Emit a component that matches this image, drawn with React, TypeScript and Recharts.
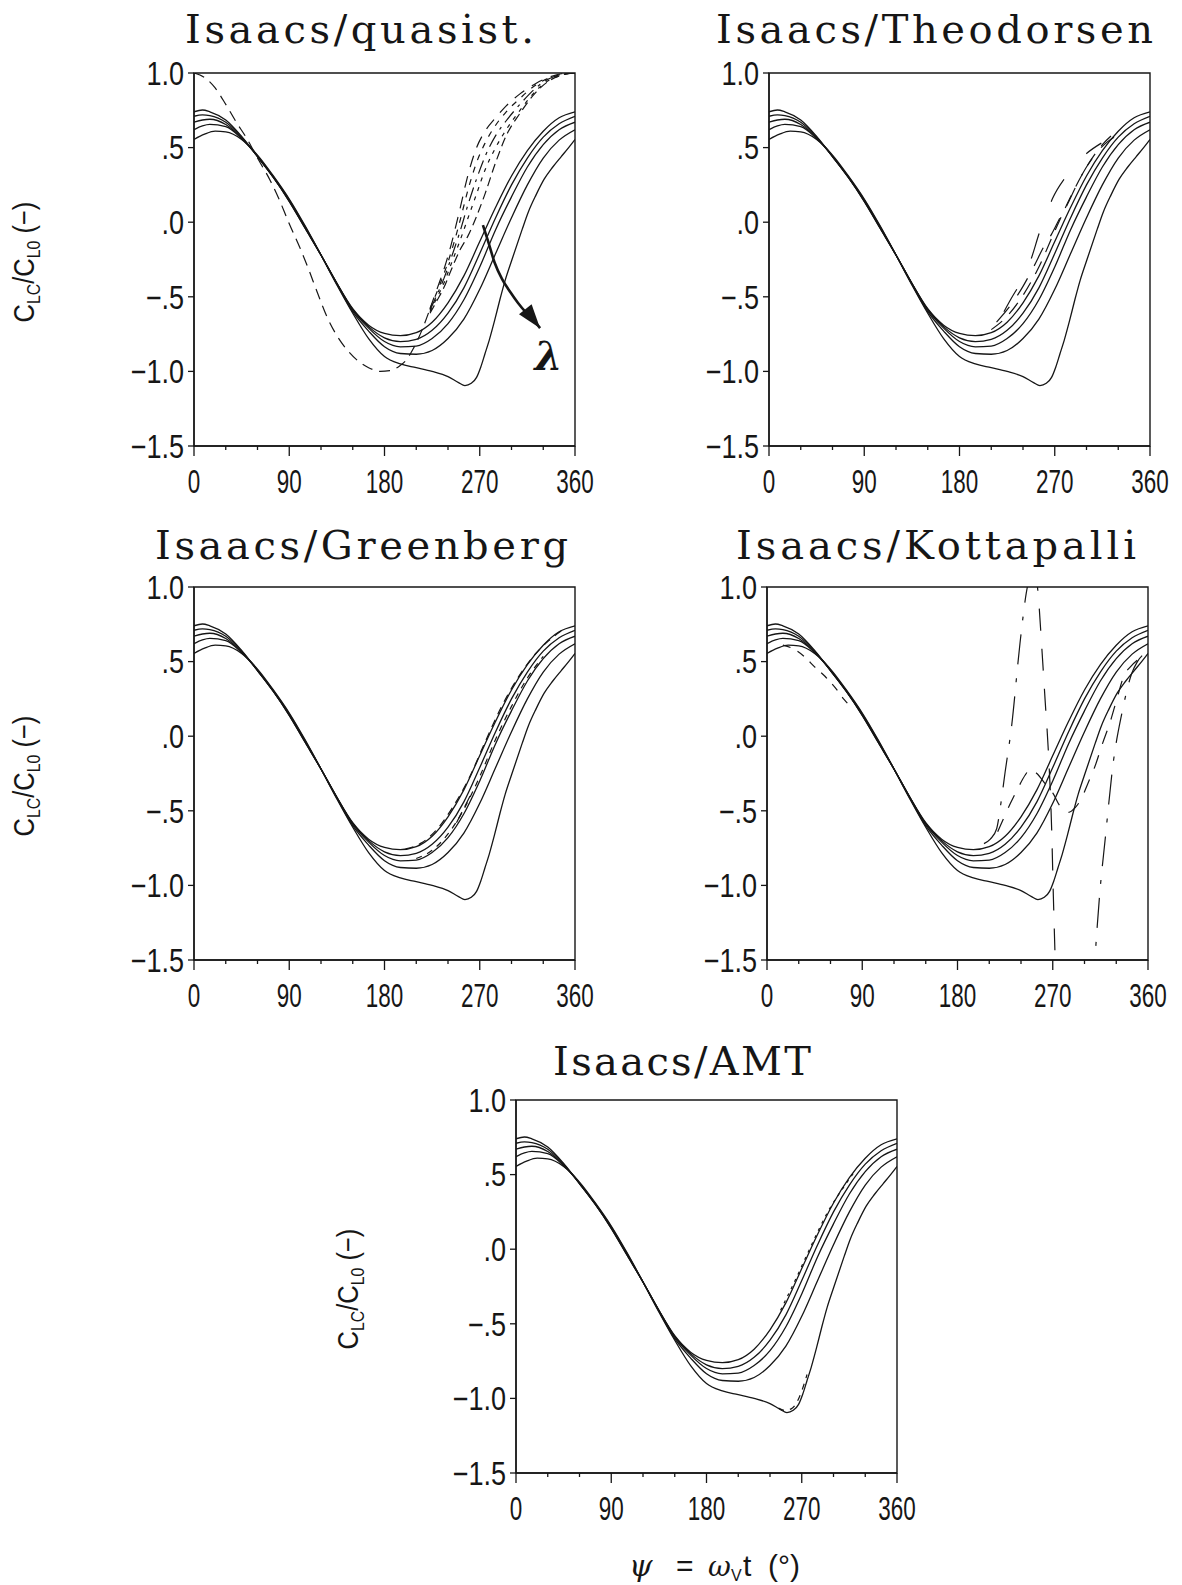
import React from "react";
import { LineChart, Line, XAxis, YAxis, ReferenceArea, ReferenceDot } from "recharts";

// ---------- axis ticks ----------
const X_TICKS = [0, 30, 60, 90, 120, 150, 180, 210, 240, 270, 300, 330, 360];
const Y_TICKS = [-1.5, -1, -0.5, 0, 0.5, 1];

// ---------- Isaacs (solid) curves, five lambda values ----------
const PSI = [0, 8, 15, 30, 45, 60, 75, 90, 105, 120, 135, 150, 165, 180, 195, 210, 225, 240, 255, 270, 285, 300, 315, 330, 345, 360];
const ISAACS_A = [0.74, 0.752, 0.74, 0.685, 0.575, 0.44, 0.3, 0.14, -0.04, -0.22, -0.41, -0.58, -0.69, -0.745, -0.76, -0.74, -0.67, -0.54, -0.36, -0.13, 0.1, 0.31, 0.48, 0.61, 0.7, 0.74];
const ISAACS_B = [0.71, 0.72, 0.715, 0.67, 0.57, 0.44, 0.3, 0.14, -0.04, -0.22, -0.41, -0.585, -0.7, -0.775, -0.8, -0.785, -0.725, -0.61, -0.44, -0.21, 0.03, 0.25, 0.43, 0.57, 0.66, 0.71];
const ISAACS_C = [0.67, 0.685, 0.69, 0.655, 0.565, 0.44, 0.3, 0.145, -0.035, -0.22, -0.41, -0.59, -0.71, -0.8, -0.835, -0.83, -0.78, -0.68, -0.52, -0.3, -0.05, 0.17, 0.37, 0.52, 0.62, 0.67];
const ISAACS_D = [0.62, 0.645, 0.655, 0.64, 0.56, 0.445, 0.305, 0.15, -0.03, -0.22, -0.415, -0.6, -0.73, -0.835, -0.88, -0.885, -0.86, -0.78, -0.65, -0.45, -0.21, 0.03, 0.25, 0.43, 0.55, 0.62];
const PSI_E = [0, 10, 20, 30, 45, 60, 75, 90, 105, 120, 135, 150, 165, 180, 195, 210, 225, 240, 250, 256, 262, 267, 271, 275, 279, 284, 289, 294, 300, 310, 316, 323, 331, 339, 347, 354, 360];
const ISAACS_E = [0.555, 0.59, 0.61, 0.605, 0.555, 0.45, 0.31, 0.155, -0.025, -0.22, -0.42, -0.61, -0.78, -0.9, -0.95, -0.975, -1.0, -1.035, -1.075, -1.095, -1.08, -1.04, -0.97, -0.88, -0.79, -0.66, -0.52, -0.39, -0.26, -0.05, 0.07, 0.18, 0.29, 0.37, 0.44, 0.5, 0.555];

// ---------- quasi-steady (dashed) ----------
const QS_PSI = [0, 10, 20, 30, 40, 50, 60, 72, 80, 90, 100, 108, 117, 126, 135, 144, 155, 165, 176, 185, 194, 201, 207, 215, 223];
const QS_VAL = [1.0, 0.97, 0.9, 0.79, 0.67, 0.56, 0.43, 0.28, 0.16, -0.01, -0.17, -0.31, -0.48, -0.64, -0.76, -0.85, -0.93, -0.975, -1.0, -0.995, -0.965, -0.92, -0.85, -0.73, -0.58];
const QT_PSI = [223, 230, 236, 243, 251, 259, 267, 275, 285, 295, 308, 323, 335, 347, 360];
const QT_1 = [-0.58, -0.44, -0.32, -0.15, 0.08, 0.32, 0.5, 0.61, 0.7, 0.78, 0.86, 0.93, 0.97, 0.995, 1.0];
const QT_2 = [-0.58, -0.46, -0.35, -0.2, 0.0, 0.22, 0.4, 0.53, 0.65, 0.74, 0.83, 0.92, 0.965, 0.99, 1.0];
const QT_3 = [-0.59, -0.48, -0.38, -0.24, -0.07, 0.12, 0.29, 0.44, 0.58, 0.68, 0.79, 0.9, 0.96, 0.99, 1.0];
const QT_4 = [-0.6, -0.5, -0.41, -0.28, -0.13, 0.03, 0.19, 0.35, 0.5, 0.62, 0.75, 0.88, 0.95, 0.985, 1.0];
const QT_5 = [-0.61, -0.52, -0.44, -0.32, -0.19, -0.09, 0.04, 0.19, 0.4, 0.58, 0.73, 0.87, 0.945, 0.985, 1.0];
const ARROW_PSI = [273, 278, 284, 291, 299, 306, 313, 320, 327];
const ARROW_VAL = [-0.02, -0.13, -0.27, -0.38, -0.47, -0.54, -0.6, -0.65, -0.71];

// ---------- Theodorsen (dashed) ----------
const TH1_PSI = [222, 229, 238, 247, 256, 262, 268, 280, 289, 300, 314];
const TH1_VAL = [-0.6, -0.51, -0.4, -0.26, -0.06, 0.05, 0.16, 0.3, 0.38, 0.46, 0.53];
const TH2_PSI = [215, 229, 240, 250, 260, 267, 275, 282, 290, 300, 310, 320, 326];
const TH2_VAL = [-0.67, -0.55, -0.43, -0.3, -0.16, -0.08, 0.03, 0.12, 0.24, 0.37, 0.47, 0.54, 0.57];
const TH3_PSI = [210, 225, 240, 255, 270, 285, 300, 315, 325];
const TH3_VAL = [-0.72, -0.63, -0.49, -0.3, -0.06, 0.17, 0.37, 0.52, 0.59];

// ---------- Greenberg (dashed) ----------
const GR1_PSI = [200, 215, 230, 245, 260, 275, 290, 305, 320, 335, 350];
const GR1_VAL = [-0.755, -0.715, -0.62, -0.47, -0.28, -0.04, 0.19, 0.38, 0.53, 0.64, 0.72];
const GR2_PSI = [248, 256, 263];
const GR2_VAL = [-0.58, -0.47, -0.37];
const GR3_PSI = [210, 225, 240, 255, 270, 285, 300, 315, 330];
const GR3_VAL = [-0.82, -0.765, -0.655, -0.49, -0.27, -0.02, 0.2, 0.39, 0.535];

// ---------- Kottapalli (dashed) ----------
const KO1_PSI = [205, 211, 217, 221, 225, 231, 239, 245, 250];
const KO1_VAL = [-0.72, -0.69, -0.62, -0.45, -0.24, 0.06, 0.62, 0.96, 1.12];
const KO2_PSI = [253, 256, 259.6, 262.8, 266, 269, 270.6, 272.2, 273];
const KO2_VAL = [1.12, 0.97, 0.6, 0.24, -0.12, -0.63, -1.08, -1.48, -1.7];
const KO3_PSI = [308, 310, 314.7, 319.4, 327.3, 335.2, 344.6, 350, 356];
const KO3_VAL = [-1.7, -1.48, -1.03, -0.7, -0.17, 0.15, 0.42, 0.5, 0.55];
const KO4_PSI = [218, 223, 230, 237, 244, 249, 255, 263, 270, 277, 285, 291, 297, 303, 310, 317, 324, 331, 337, 344, 350];
const KO4_VAL = [-0.64, -0.56, -0.45, -0.35, -0.26, -0.22, -0.25, -0.32, -0.38, -0.47, -0.51, -0.48, -0.42, -0.32, -0.2, -0.05, 0.09, 0.26, 0.4, 0.47, 0.51];
const KO5_PSI = [15, 25, 35, 45, 55, 65, 73, 80];
const KO5_VAL = [0.61, 0.585, 0.535, 0.465, 0.4, 0.32, 0.245, 0.19];

// ---------- AMT (dashed) ----------
const AM1_PSI = [248, 254, 260, 265, 270, 275];
const AM1_VAL = [-1.065, -1.08, -1.07, -1.03, -0.95, -0.84];
const AM2_PSI = [250, 265, 280, 295, 310, 320];
const AM2_VAL = [-0.41, -0.19, 0.04, 0.255, 0.42, 0.52];

const zip = (xs: number[], ys: number[]) => xs.map((x, i) => ({ x, y: ys[i] }));

const INK = "#161616";
const YW = 90;
const MT = 26;
const MR = 36;
const XH = 62;
const PW = 381;
const PH = 373;
const TICK_FONT = "Liberation Sans, Arial, sans-serif";

const fmtY = (v: number) => {
  const s = Math.abs(v) < 1 ? "." + Math.round(Math.abs(v) * 10) : Math.abs(v).toFixed(1);
  return v < 0 ? "\u2212" + s : s;
};

const XTick = (props: any) => {
  const { x, y, payload } = props;
  const v = payload.value;
  const major = v % 90 === 0;
  return (
    <g>
      <line x1={x} x2={x} y1={y} y2={y + (major ? 10 : 4)} stroke={INK} strokeWidth={1.3} />
      {major && (
        <text
          transform={`translate(${x},${y + 47}) scale(0.66,1)`}
          textAnchor="middle"
          fontFamily={TICK_FONT}
          fontSize={34}
          fill={INK}
        >
          {v}
        </text>
      )}
    </g>
  );
};

const YTick = (props: any) => {
  const { x, y, payload } = props;
  return (
    <g>
      <line x1={x - 6} x2={x} y1={y} y2={y} stroke={INK} strokeWidth={1.3} />
      <text
        transform={`translate(${x - 10},${y}) scale(0.82,1)`}
        dy="0.36em"
        textAnchor="end"
        fontFamily={TICK_FONT}
        fontSize={33}
        fill={INK}
      >
        {fmtY(payload.value)}
      </text>
    </g>
  );
};

type Series = { data: { x: number; y: number }[]; dash?: string; w?: number };

const SOLID: Series[] = [
  { data: zip(PSI, ISAACS_A) },
  { data: zip(PSI, ISAACS_B) },
  { data: zip(PSI, ISAACS_C) },
  { data: zip(PSI, ISAACS_D) },
  { data: zip(PSI_E, ISAACS_E) },
];

const Arrowhead = (props: any) => {
  const { cx, cy, index } = props;
  if (index !== ARROW_PSI.length - 1 || cx == null) return <g key={"ah" + index} />;
  const a = (52 * Math.PI) / 180;
  const dx = Math.cos(a);
  const dy = Math.sin(a);
  const L = 24;
  const Wd = 8;
  const bx = cx - L * dx;
  const by = cy - L * dy;
  const pts = `${cx},${cy} ${bx - Wd * dy},${by + Wd * dx} ${bx + Wd * dy},${by - Wd * dx}`;
  return <polygon key={"ah" + index} points={pts} fill={INK} />;
};

function Panel({ left, top, dashed, extra }: { left: number; top: number; dashed: Series[]; extra?: React.ReactNode[] }) {
  return (
    <div style={{ position: "absolute", left: left - YW, top: top - MT }}>
      <LineChart width={YW + PW + MR} height={MT + PH + XH} margin={{ top: MT, right: MR, bottom: 0, left: 0 }}>
        <XAxis
          type="number"
          dataKey="x"
          domain={[0, 360]}
          ticks={X_TICKS}
          interval={0}
          allowDataOverflow
          height={XH}
          tickSize={0}
          tickMargin={0}
          tickLine={false}
          tick={<XTick />}
          axisLine={{ stroke: INK, strokeWidth: 1.4 }}
        />
        <YAxis
          type="number"
          domain={[-1.5, 1]}
          ticks={Y_TICKS}
          interval={0}
          allowDataOverflow
          width={YW}
          tickSize={0}
          tickMargin={0}
          tickLine={false}
          tick={<YTick />}
          axisLine={{ stroke: INK, strokeWidth: 1.4 }}
        />
        <ReferenceArea x1={0} x2={360} y1={-1.5} y2={1} fill="none" stroke={INK} strokeWidth={1.4} />
        {SOLID.map((s, i) => (
          <Line key={"s" + i} data={s.data} dataKey="y" type="monotone" stroke={INK} strokeWidth={1.3} dot={false} isAnimationActive={false} />
        ))}
        {dashed.map((s, i) => (
          <Line
            key={"d" + i}
            data={s.data}
            dataKey="y"
            type="monotone"
            stroke={INK}
            strokeWidth={s.w ?? 1.2}
            strokeDasharray={s.dash}
            dot={false}
            isAnimationActive={false}
          />
        ))}
        {extra}
      </LineChart>
    </div>
  );
}

const QUASI: Series[] = [
  { data: zip(QS_PSI, QS_VAL), dash: "11 7" },
  { data: zip(QT_PSI, QT_1), dash: "12 9" },
  { data: zip(QT_PSI, QT_2), dash: "6 7" },
  { data: zip(QT_PSI, QT_3), dash: "14 6 3 6" },
  { data: zip(QT_PSI, QT_4), dash: "4 6" },
  { data: zip(QT_PSI, QT_5), dash: "9 5" },
];
const THEO: Series[] = [
  { data: zip(TH1_PSI, TH1_VAL), dash: "26 34" },
  { data: zip(TH2_PSI, TH2_VAL), dash: "20 14" },
  { data: zip(TH3_PSI, TH3_VAL), dash: "14 10" },
];
const GREEN: Series[] = [
  { data: zip(GR1_PSI, GR1_VAL), dash: "8 6" },
  { data: zip(GR2_PSI, GR2_VAL), dash: "12 6" },
  { data: zip(GR3_PSI, GR3_VAL), dash: "6 6" },
];
const KOTTA: Series[] = [
  { data: zip(KO1_PSI, KO1_VAL), dash: "30 14 4 14" },
  { data: zip(KO2_PSI, KO2_VAL), dash: "22 18" },
  { data: zip(KO3_PSI, KO3_VAL), dash: "30 14 4 14" },
  { data: zip(KO4_PSI, KO4_VAL), dash: "14 12" },
  { data: zip(KO5_PSI, KO5_VAL), dash: "8 8" },
];
const AMT: Series[] = [
  { data: zip(AM1_PSI, AM1_VAL), dash: "6 6" },
  { data: zip(AM2_PSI, AM2_VAL), dash: "3 5" },
];

const quasiExtra = [
  <Line
    key="arrow"
    data={zip(ARROW_PSI, ARROW_VAL)}
    dataKey="y"
    type="monotone"
    stroke={INK}
    strokeWidth={2.6}
    dot={<Arrowhead />}
    isAnimationActive={false}
  />,
  <ReferenceDot
    key="lambda"
    x={335}
    y={-0.9}
    r={0}
    shape={(p: any) => (
      <text x={p.cx} y={p.cy} dy="0.35em" textAnchor="middle" fontFamily="DejaVu Serif, serif" fontStyle="italic" fontWeight="bold" fontSize={40} fill={INK}>
        λ
      </text>
    )}
  />,
];

const TITLE_FONT = "DejaVu Serif, Liberation Serif, serif";
const LABEL_FONT = "Liberation Sans, Arial, sans-serif";

const YLabel = ({ x, y }: { x: number; y: number }) => (
  <text transform={`translate(${x},${y}) rotate(-90) scale(0.88,1)`} textAnchor="middle" fontFamily={LABEL_FONT} fontSize={29} fill={INK}>
    C<tspan fontSize={18} dy={6}>LC</tspan>
    <tspan dy={-6}>/C</tspan>
    <tspan fontSize={18} dy={6}>L0</tspan>
    <tspan dy={-6}> (−)</tspan>
  </text>
);

const Title = ({ x, y, w, text }: { x: number; y: number; w: number; text: string }) => (
  <text x={x} y={y} fontFamily={TITLE_FONT} fontSize={40} fill={INK} textLength={w} lengthAdjust="spacing">
    {text}
  </text>
);

export default function App() {
  return (
    <div style={{ position: "absolute", left: 0, top: 0, width: 1182, height: 1585, background: "#fff", overflow: "hidden" }}>
      <Panel left={194} top={73} dashed={QUASI} extra={quasiExtra} />
      <Panel left={769} top={73} dashed={THEO} />
      <Panel left={194} top={587} dashed={GREEN} />
      <Panel left={767} top={587} dashed={KOTTA} />
      <Panel left={516} top={1100} dashed={AMT} />
      <svg width={1182} height={1585} style={{ position: "absolute", left: 0, top: 0, pointerEvents: "none" }}>
        <Title x={185} y={43} w={349} text="Isaacs/quasist." />
        <Title x={716} y={43} w={437} text="Isaacs/Theodorsen" />
        <Title x={155} y={559} w={413} text="Isaacs/Greenberg" />
        <Title x={736} y={559} w={400} text="Isaacs/Kottapalli" />
        <Title x={553} y={1075} w={258} text="Isaacs/AMT" />
        <YLabel x={34} y={262} />
        <YLabel x={34} y={776} />
        <YLabel x={358} y={1289} />
        <text y={1576} fontSize={30} fill={INK}>
          <tspan x={629} fontFamily="DejaVu Serif, serif" fontStyle="italic">ψ</tspan>
          <tspan x={676} fontFamily={LABEL_FONT}>=</tspan>
          <tspan x={708} fontFamily="DejaVu Serif, serif" fontStyle="italic" fontSize={28}>ω</tspan>
          <tspan x={731} dy={5} fontFamily={LABEL_FONT} fontSize={16}>V</tspan>
          <tspan x={743} dy={-5} fontFamily={LABEL_FONT}>t</tspan>
          <tspan x={768} fontFamily={LABEL_FONT}>(°)</tspan>
        </text>
      </svg>
    </div>
  );
}
